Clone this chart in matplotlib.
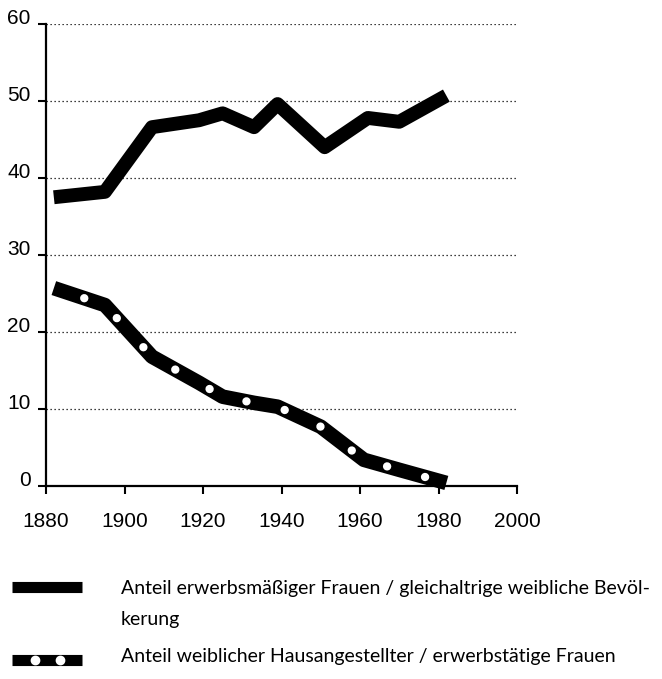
import matplotlib
matplotlib.use("Agg")
import matplotlib.pyplot as plt
from matplotlib.lines import Line2D

# ---- data ----
years_work = [1882, 1895, 1907, 1919, 1925, 1933, 1939, 1951, 1962, 1970, 1982]
share_work = [37.5, 38.2, 46.6, 47.5, 48.4, 46.6, 49.6, 44.0, 47.8, 47.3, 50.7]

years_domestic = [1882, 1895, 1907, 1919, 1925, 1933, 1939, 1950, 1961, 1970, 1982]
share_domestic = [25.7, 23.5, 16.8, 13.4, 11.6, 10.8, 10.3, 7.7, 3.4, 2.1, 0.4]

x_ticks = [1880, 1900, 1920, 1940, 1960, 1980, 2000]
y_ticks = [0, 10, 20, 30, 40, 50, 60]

label_work = "Anteil erwerbsmäßiger Frauen / gleichaltrige weibliche Bevöl-\nkerung"
label_domestic = "Anteil weiblicher Hausangestellter / erwerbstätige Frauen"

W, H = 662, 679
fig = plt.figure(figsize=(W / 100, H / 100), dpi=100)
ax = fig.add_axes([46 / W, 1 - 486 / H, (517 - 46) / W, (486 - 24) / H])

ax.set_xlim(x_ticks[0], x_ticks[-1])
ax.set_ylim(y_ticks[0], y_ticks[-1])
ax.set_xticks(x_ticks)
ax.set_yticks(y_ticks)

for s in ("top", "right"):
    ax.spines[s].set_visible(False)
for s in ("left", "bottom"):
    ax.spines[s].set_linewidth(1.6)

ax.tick_params(axis="both", direction="out", length=6, width=1.5, colors="black")
ax.tick_params(axis="x", pad=13, labelsize=15)
ax.tick_params(axis="y", pad=5, labelsize=15)
for lab in ax.get_xticklabels() + ax.get_yticklabels():
    lab.set_family("Liberation Sans")
for lab in ax.get_yticklabels():
    lab.set_verticalalignment("baseline")

ax.set_axisbelow(True)
ax.yaxis.grid(True, color="black", linestyle=(0, (1, 2.2)), linewidth=0.9)
ax.xaxis.grid(False)

# series 1: solid thick black
ax.plot(years_work, share_work, color="black", lw=10,
        solid_capstyle="butt", solid_joinstyle="round", clip_on=False, zorder=3)

# series 2: thick black with white dots
ax.plot(years_domestic, share_domestic, color="black", lw=10.5,
        solid_capstyle="butt", solid_joinstyle="round", clip_on=False, zorder=3)
ax.plot(years_domestic, share_domestic, color="white", lw=6,
        linestyle=(0.89, (0.01, 4.72)), dash_capstyle="round",
        clip_on=False, zorder=4)

# ---- legend (drawn below the axes) ----
def fx(px):
    return px / W

def fy(py):
    return 1 - py / H

bar1 = Line2D([fx(12), fx(82)], [fy(587), fy(587)], transform=fig.transFigure,
              color="black", lw=8, solid_capstyle="butt")
bar2 = Line2D([fx(12), fx(82)], [fy(660), fy(660)], transform=fig.transFigure,
              color="black", lw=8, solid_capstyle="butt")
dots2 = Line2D([fx(35), fx(60)], [fy(660), fy(660)], transform=fig.transFigure,
               color="white", lw=0, marker="o", markersize=6,
               markerfacecolor="white", markeredgecolor="white")
for a in (bar1, bar2, dots2):
    fig.add_artist(a)

legend_font = "Lato"
fig.text(fx(121), fy(625), label_work, fontsize=14, family=legend_font,
         va="baseline", ha="left", linespacing=2.0)
fig.text(fx(121), fy(662), label_domestic, fontsize=14, family=legend_font,
         va="baseline", ha="left")

fig.savefig("out.png", dpi=100)
